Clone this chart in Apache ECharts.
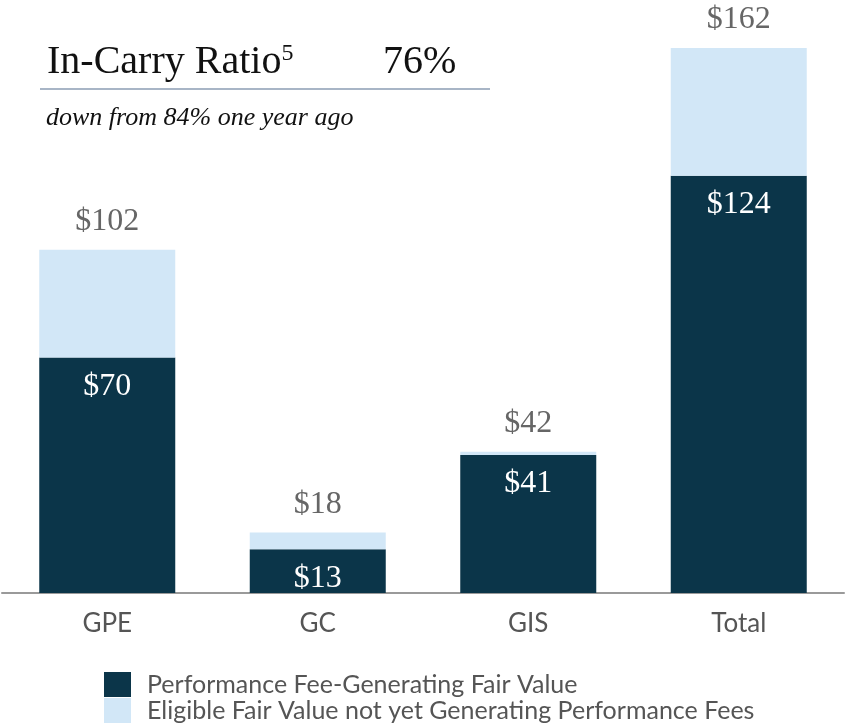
<!DOCTYPE html>
<html>
<head>
<meta charset="utf-8">
<script src="https://cdn.jsdelivr.net/npm/echarts@6/dist/echarts.min.js"></script>
<style>
  html, body { margin: 0; padding: 0; background: #fff; }
  #chart { width: 846px; height: 725px; }
</style>
</head>
<body>
<div id="chart"></div>
<script>
// data ($ billions)
var categories = ['GPE', 'GC', 'GIS', 'Total'];
var generating = [70, 13, 41, 124];          // Performance Fee-Generating Fair Value
var notYet = [32, 5, 1, 38];                 // Eligible Fair Value not yet generating
var totals = [102, 18, 42, 162];
var seriesNames = ['Performance Fee-Generating Fair Value', 'Eligible Fair Value not yet Generating Performance Fees'];

var serif = '"Liberation Serif", "DejaVu Serif", serif';
var sans = 'Lato, "Noto Sans", sans-serif';

var myChart = echarts.init(document.getElementById('chart'));

var options = {
    animation: false,
    title: [
        {
            text: 'In-Carry Ratio{sup|5}',
            left: 42, top: 37,
            textStyle: {
                fontFamily: serif, fontSize: 40, fontWeight: 'normal', color: '#111',
                rich: { sup: { fontFamily: serif, fontSize: 24, color: '#111', verticalAlign: 'top', padding: [0, 0, 16, 0] } }
            }
        },
        {
            text: '76%',
            left: 378, top: 37,
            textStyle: { fontFamily: serif, fontSize: 40, fontWeight: 'normal', color: '#111' }
        },
        {
            text: 'down from 84% one year ago',
            left: 41, top: 100,
            textStyle: { fontFamily: serif, fontSize: 26, fontStyle: 'italic', fontWeight: 'normal', color: '#111' }
        }
    ],
    graphic: [
        {
            type: 'line',
            shape: { x1: 40, y1: 89, x2: 490, y2: 89 },
            style: { stroke: '#8b9db3', lineWidth: 1.5 }
        }
    ],
    legend: {
        orient: 'vertical',
        left: 104, top: 672,
        padding: 0,
        itemWidth: 27, itemHeight: 25, itemGap: 1,
        icon: 'rect',
        data: seriesNames,
        textStyle: { fontFamily: sans, fontSize: 25, color: '#555', padding: [0, 0, 0, 11] }
    },
    grid: { left: 2, right: 2, top: 21, bottom: 132, containLabel: false },
    xAxis: {
        type: 'category',
        data: categories,
        axisLine: { lineStyle: { color: '#9a9a9a', width: 2 } },
        axisTick: { show: false },
        axisLabel: { fontFamily: sans, fontSize: 26, color: '#555', margin: 18 }
    },
    yAxis: {
        type: 'value',
        min: 0, max: 170,
        show: false,
        splitLine: { show: false }
    },
    series: [
        {
            name: seriesNames[0],
            type: 'bar',
            stack: 'carry',
            barWidth: 136,
            data: generating,
            itemStyle: { color: '#0b3549' },
            label: {
                show: true,
                position: 'insideTop',
                distance: 13,
                fontFamily: serif, fontSize: 32, color: '#fff',
                formatter: function (p) { return '$' + p.value; }
            }
        },
        {
            name: seriesNames[1],
            type: 'bar',
            stack: 'carry',
            barWidth: 136,
            data: notYet,
            itemStyle: { color: '#d2e7f7' },
            label: {
                show: true,
                position: 'top',
                distance: 12,
                fontFamily: serif, fontSize: 32, color: '#666',
                formatter: function (p) { return '$' + totals[p.dataIndex]; }
            }
        }
    ]
};
myChart.setOption(options);
</script>
</body>
</html>
